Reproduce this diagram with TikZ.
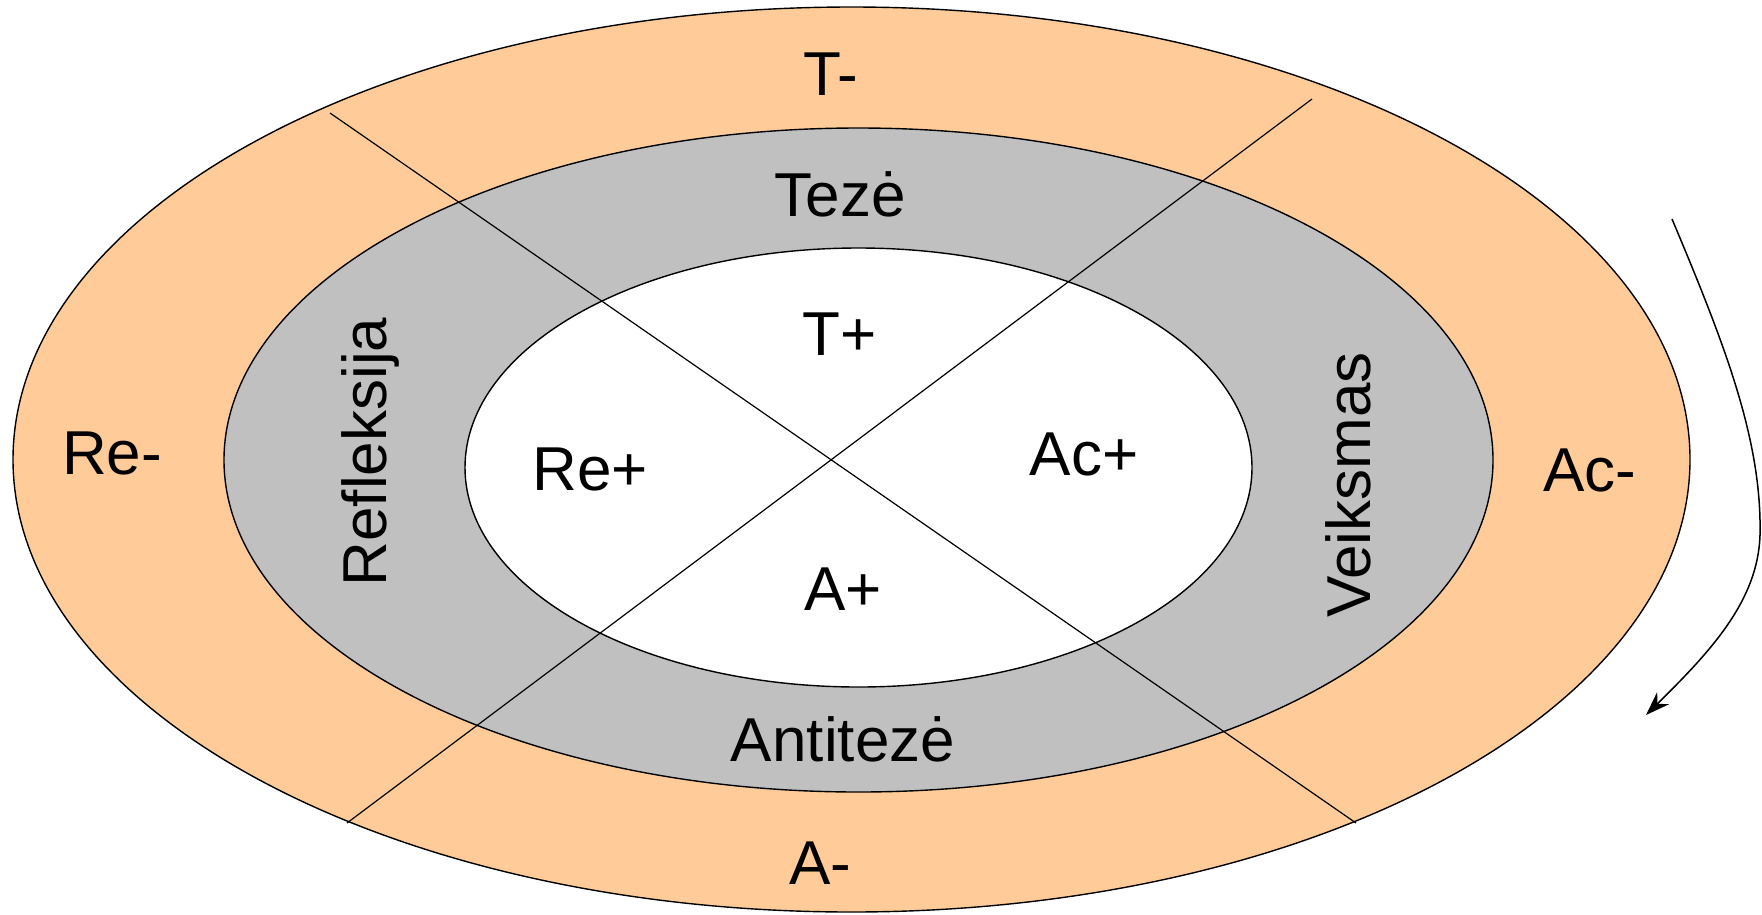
\documentclass[tikz,border=0pt]{standalone}
\usepackage{fontspec}
\setmainfont{Liberation Sans}
\usetikzlibrary{arrows.meta}
\definecolor{ringorange}{HTML}{FFCC99}
\definecolor{ringgray}{HTML}{C0C0C0}
\begin{document}
\begin{tikzpicture}[x=1pt,y=-1pt,
  ring/.style={draw=black,line width=1.4pt},
  divider/.style={draw=black,line width=1.2pt},
  lbl/.style={font=\fontsize{62}{70}\selectfont,anchor=base,inner sep=0pt}]
\useasboundingbox (0,0) rectangle (1762,914);
\path[ring,fill=ringorange] (851.5,459.5) ellipse [x radius=838.5pt, y radius=452.5pt];
\path[ring,fill=ringgray] (858.5,460) ellipse [x radius=634.5pt, y radius=332pt];
\path[ring,fill=white] (858.5,467.5) ellipse [x radius=393.5pt, y radius=219.5pt];
\coordinate (l1a) at (330,113);
\coordinate (l1b) at (1356,823);
\coordinate (l2a) at (1312,99);
\coordinate (l2b) at (347,823);
\draw[divider] (l1a) -- (l1b);
\draw[divider] (l2a) -- (l2b);
\node[lbl] (tm) at (831,95.5) {T-};
\node[lbl] (tz) at (840,216) {Tezė};
\node[lbl] (tp) at (840,355) {T+};
\node[lbl] (rem) at (112,474) {Re-};
\node[lbl] (rep) at (590,490) {Re+};
\node[lbl] (acp) at (1084,475) {Ac+};
\node[lbl] (acm) at (1590,491) {Ac-};
\node[lbl] (ap) at (843,610) {A+};
\node[lbl] (at) at (843,761) {Antitezė};
\node[lbl] (am) at (820,884) {A-};
\node[lbl,rotate=90] (ref) at (386,452) {Refleksija};
\node[lbl,rotate=90] (vei) at (1370,485) {Veiksmas};
\coordinate (arS) at (1672,219);
\coordinate (arM) at (1760,535);
\coordinate (arE) at (1646,715);
\draw[line width=1.5pt,-{Stealth[length=24pt,width=17pt,inset=8pt]}] (arS) .. controls (1725,345) and (1762,440) .. (arM) .. controls (1758,600) and (1712,650) .. (arE);
\end{tikzpicture}
\end{document}
